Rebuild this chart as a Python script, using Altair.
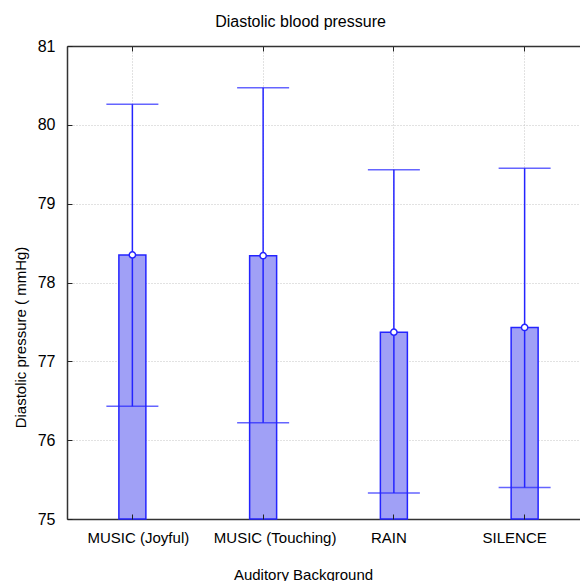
import altair as alt
import pandas as pd

categories = ["MUSIC (Joyful)", "MUSIC (Touching)", "RAIN", "SILENCE"]
means = [78.35, 78.34, 77.37, 77.43]
upper = [80.26, 80.47, 79.43, 79.45]
lower = [76.43, 76.22, 75.33, 75.40]
y_ticks = [75, 76, 77, 78, 79, 80, 81]

df = pd.DataFrame({"cat": categories, "mean": means, "upper": upper, "lower": lower})

BLUE = "#2424ff"
FILL = "#a0a0f6"
FONT = "Liberation Sans"
W, H = 513, 473
XR = 523  # x band range extends past the visible window, like the reference

xsc = alt.Scale(domain=categories, paddingInner=0, paddingOuter=0, range=[0, XR])
ysc = alt.Scale(domain=[75, 81], nice=False, zero=False)

label_shift = alt.ExprRef(
    "[6, 12, -5, -10][indexof(['MUSIC (Joyful)', 'MUSIC (Touching)', 'RAIN', 'SILENCE'], datum.value)]"
)

base = alt.Chart(df)

bars = base.mark_bar(size=27, fill=FILL, stroke=BLUE, strokeWidth=1.5).encode(
    x=alt.X("cat:N", scale=xsc, sort=categories,
            axis=alt.Axis(orient="bottom", title="Auditory Background", labelAngle=0,
                          ticks=False, labelPadding=11, labelFontSize=15, labelColor="#000",
                          labelOffset=label_shift,
                          grid=True, gridColor="#c4c4c4", gridDash=[1, 2], gridWidth=1,
                          domainColor="#333", domainWidth=1.5,
                          titleFontSize=15, titleFontWeight="normal", titleColor="#000",
                          titleX=236, titleY=60, titleAlign="center", titleBaseline="alphabetic")),
    y=alt.Y("mean:Q", scale=ysc,
            axis=alt.Axis(orient="left", values=y_ticks, title="Diastolic pressure ( mmHg)",
                          ticks=False, labelPadding=12, labelFontSize=16, labelColor="#000",
                          grid=True, gridColor="#c4c4c4", gridDash=[1, 2], gridWidth=1,
                          domainColor="#333", domainWidth=1.5,
                          titleFontSize=15, titleFontWeight="normal", titleColor="#000",
                          titleAngle=270, titleX=-47, titleY=291, titleAlign="center",
                          titleBaseline="middle")),
    y2=alt.datum(75),
)

whisk = base.mark_rule(color=BLUE, strokeWidth=1.5).encode(
    x=alt.X("cat:N", scale=xsc, sort=categories,
            axis=alt.Axis(orient="top", offset=-H, labels=False, title=None, grid=False,
                          domain=False, ticks=True, tickSize=5, tickColor="#222", tickWidth=1,
                          zindex=1)),
    y=alt.Y("lower:Q", scale=ysc,
            axis=alt.Axis(orient="right", offset=-W, values=y_ticks, labels=False, title=None,
                          grid=False, domain=False, ticks=True, tickSize=5, tickColor="#222",
                          tickWidth=1, zindex=1)),
    y2="upper:Q",
)

cap_hi = base.mark_tick(color=BLUE, size=52, thickness=1.5, orient="horizontal").encode(
    x=alt.X("cat:N", scale=xsc, sort=categories,
            axis=alt.Axis(orient="bottom", offset=-H, labels=False, title=None, grid=False,
                          domain=True, domainColor="#333", domainWidth=1.5,
                          ticks=True, tickSize=5, tickColor="#222", tickWidth=1,
                          zindex=1)),
    y=alt.Y("upper:Q", scale=ysc, axis=None),
)

cap_lo = base.mark_tick(color=BLUE, size=52, thickness=1.5, orient="horizontal").encode(
    x=alt.X("cat:N", scale=xsc, sort=categories, axis=None),
    y=alt.Y("lower:Q", scale=ysc, axis=None),
)

pts = base.mark_point(shape="circle", filled=True, fill="white", stroke=BLUE,
                      strokeWidth=1.5, size=40, opacity=1).encode(
    x=alt.X("cat:N", scale=xsc, sort=categories, axis=None),
    y=alt.Y("mean:Q", scale=ysc, axis=None),
)

chart = alt.layer(bars, whisk, cap_hi, cap_lo, pts).resolve_axis(
    x="independent", y="independent"
).properties(
    width=W, height=H,
    title=alt.TitleParams("Diastolic blood pressure", fontSize=16, fontWeight="normal",
                          font=FONT, color="#000", anchor="middle", dx=-23, dy=-4),
    autosize=alt.AutoSizeParams(type="none"),
    padding={"left": 67, "top": 46, "right": 0, "bottom": 62},
).configure(font=FONT).configure_view(
    stroke=None
)

chart.save("out.html", embed_options={"renderer": "svg", "actions": False})
